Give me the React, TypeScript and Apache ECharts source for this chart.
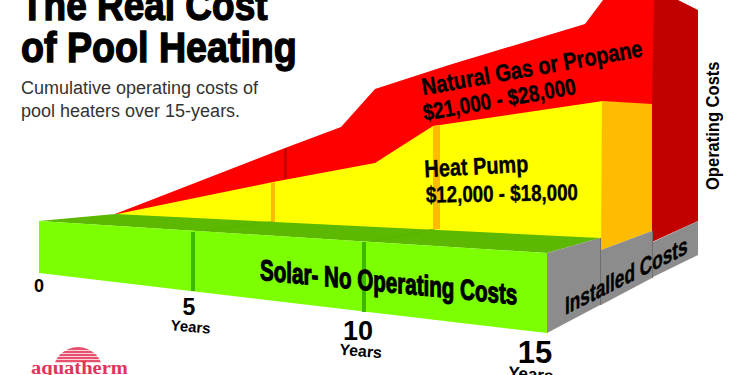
import React, { useEffect, useRef } from "react";
import * as echarts from "echarts";

const SANS = '"Liberation Sans", Arial, sans-serif';
const SERIF = '"Liberation Serif", serif';

// Projected outlines of the chart's faces, in axis units.
const gasFront = [[115,214],[285,148],[341,127],[375,89],[449,65],[585,24],[603,0],[654,0],[654,110],[603,110],[433,229],[115,214]];
const gasSide = [[654,0],[678,0],[698,10],[698,221],[652,242],[652,104]];
const pumpFront = [[117,214],[273,182],[375,163],[433,126],[603,101],[603,240],[117,216]];
const pumpSide = [[602,101],[652,104],[652,231],[601,250]];
const solarTop = [[39,221],[115,214],[600,238],[547,253]];
const solarFront = [[39,221],[547,253],[547,333],[39,273]];
const baseSide1 = [[547,253],[600,238],[600,305],[547,333]];
const baseSide2 = [[601,250],[652,231],[652,278],[601,305]];
const baseSide3 = [[653,242],[698,221],[698,255],[653,277]];
const gasTick1 = [[284,149],[287,148],[287,178],[284,179]];
const pumpTick1 = [[271,183],[275,182],[275,222],[271,222]];
const pumpTick2 = [[433,126],[440,125],[440,229],[433,229]];
const solarTick1 = [[191,232],[195,232],[195,291],[191,291]];
const solarTick2 = [[362,242],[366,242],[366,312],[362,312]];
const solarBack1 = [[193,232],[272,221],[275,221],[196,232]];
const solarBack2 = [[364,243],[432,229],[436,229],[367,243]];
const baseLine1 = [[600,238],[601,238],[601,305],[600,305]];
const baseLine2 = [[652,231],[653,231],[653,278],[652,278]];

const faces: [number[][], string][] = [
  [gasFront, "#FF0000"],
  [gasSide, "#C20000"],
  [gasTick1, "#C80000"],
  [pumpFront, "#FFFF00"],
  [pumpSide, "#FFBB00"],
  [pumpTick1, "#FFBB00"],
  [pumpTick2, "#FFBB00"],
  [solarTop, "#5CB800"],
  [solarBack1, "#54AE00"],
  [solarBack2, "#54AE00"],
  [solarFront, "#7CFF00"],
  [solarTick1, "#3CB800"],
  [solarTick2, "#3CB800"],
  [baseSide1, "#8C8C8C"],
  [baseSide2, "#8C8C8C"],
  [baseSide3, "#8C8C8C"],
  [baseLine1, "#6E6E6E"],
  [baseLine2, "#6E6E6E"],
];

const titleLines = ["The Real Cost", "of Pool Heating"];
const subtitleLines = ["Cumulative operating costs of", "pool heaters over 15-years."];
const yearLabels = ["0", "5", "10", "15"];
const unitLabel = "Years";
const gasLabels = ["Natural Gas or Propane", "$21,000 - $28,000"];
const pumpLabels = ["Heat Pump", "$12,000 - $18,000"];
const solarLabel = "Solar- No Operating Costs";
const installedLabel = "Installed Costs";
const operatingLabel = "Operating Costs";
const brand = "aquatherm";

const deg = (d: number) => (d * Math.PI) / 180;

function txt(text: string, x: number, y: number, size: number, o: any = {}) {
  return {
    type: "text",
    x,
    y,
    rotation: o.rot ? deg(o.rot) : 0,
    skewY: o.skew ? deg(o.skew) : 0,
    scaleX: o.sx ?? 1,
    scaleY: o.sy ?? 1,
    silent: true,
    z: 10,
    style: {
      text,
      x: 0,
      y: 0,
      fill: o.fill ?? "#000",
      font: `${o.weight ?? "bold"} ${size}px ${o.family ?? SANS}`,
      textAlign: o.align ?? "left",
      textVerticalAlign: "bottom",
      textBaseline: "bottom",
      stroke: o.stroke,
      lineWidth: o.lw ?? 0,
    },
  };
}

export default function App() {
  const ref = useRef<HTMLDivElement>(null);
  useEffect(() => {
    document.body.style.margin = "0";
    const chart = echarts.init(ref.current!, null, { renderer: "svg" });
    const dome = [0, 1, 2, 3, 4].map((i) => ({
      type: "rect",
      shape: { x: 50, y: 350 + i * 3, width: 56, height: 1 },
      style: { fill: "#fff", opacity: 0.75 },
      z: 12,
      silent: true,
    }));
    chart.setOption({
      animation: false,
      backgroundColor: "#fff",
      grid: { left: 0, right: 0, top: 0, bottom: 0 },
      xAxis: { type: "value", min: 0, max: 750, show: false },
      yAxis: { type: "value", min: 0, max: 375, inverse: true, show: false },
      series: [
        {
          type: "custom",
          coordinateSystem: "cartesian2d",
          silent: true,
          clip: true,
          data: faces.map((_, i) => [i]),
          renderItem: (_p: any, api: any) => {
            const [pts, fill] = faces[api.value(0)];
            return {
              type: "polygon",
              shape: { points: pts.map((p) => api.coord(p)) },
              style: { fill },
            };
          },
        },
      ],
      graphic: [
        txt(titleLines[0], 21, 26, 43, { sx: 0.86, stroke: "#000", lw: 1.4 }),
        txt(titleLines[1], 21, 69, 43, { sx: 0.875, stroke: "#000", lw: 1.4 }),
        txt(subtitleLines[0], 21, 97, 18, { weight: "normal", fill: "#333" }),
        txt(subtitleLines[1], 21, 120, 18, { weight: "normal", fill: "#333" }),
        txt(gasLabels[0], 424, 99, 24, { rot: 10, sx: 0.835, stroke: "#000", lw: 0.4 }),
        txt(gasLabels[1], 425, 124, 23, { rot: 10, sx: 0.83, stroke: "#000", lw: 0.4 }),
        txt(pumpLabels[0], 425, 181, 24, { rot: 3, sx: 0.83, stroke: "#000", lw: 0.4 }),
        txt(pumpLabels[1], 426, 206, 23, { rot: 1, sx: 0.815, stroke: "#000", lw: 0.4 }),
        txt(solarLabel, 260, 284, 29, { skew: -5.5, sx: 0.71, stroke: "#000", lw: 1.1 }),
        txt(installedLabel, 565, 319, 25, { skew: 26.7, sx: 0.69, stroke: "#000", lw: 0.4 }),
        txt(operatingLabel, 722, 190, 19, { rot: 90, sx: 0.87 }),
        txt(yearLabels[0], 39, 295, 18, { align: "center" }),
        txt(yearLabels[1], 189, 318, 23, { align: "center" }),
        txt(unitLabel, 190, 334, 15, { align: "center", rot: -5 }),
        txt(yearLabels[2], 358, 344, 27, { align: "center" }),
        txt(unitLabel, 360, 359, 16, { align: "center", rot: -5 }),
        txt(yearLabels[3], 535, 368, 31, { align: "center" }),
        txt(unitLabel, 530, 383, 17, { align: "center", rot: -5 }),
        {
          type: "sector",
          shape: { cx: 78, cy: 372, r: 25, r0: 0, startAngle: Math.PI, endAngle: Math.PI * 2 },
          style: { fill: "#E8506F" },
          z: 11,
          silent: true,
        },
        ...dome,
        {
          type: "rect",
          shape: { x: 28, y: 363, width: 102, height: 12 },
          style: { fill: "#fff" },
          z: 13,
          silent: true,
        },
        { ...txt(brand, 31, 377, 19, { family: SERIF, fill: "#E0345C", sx: 1.08 }), z: 14 },
      ],
    });
    return () => chart.dispose();
  }, []);
  return <div ref={ref} style={{ width: 750, height: 375, position: "absolute", left: 0, top: 0 }} />;
}
